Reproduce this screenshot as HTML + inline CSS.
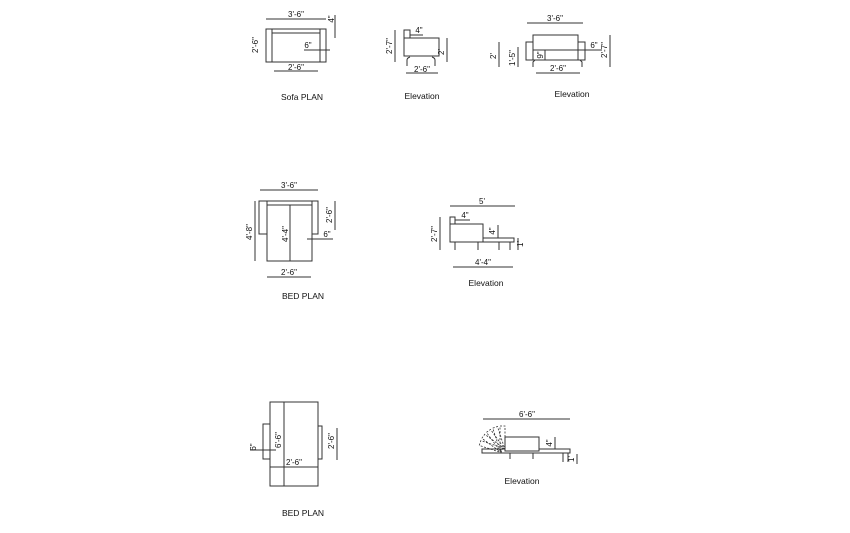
<!DOCTYPE html>
<html><head><style>
html,body{margin:0;padding:0;background:#fff;}
svg{display:block;}
text{font-family:"Liberation Sans",sans-serif;fill:#111;}
.d{font-size:8px;}
.l{font-size:8.5px;}
</style></head><body>
<svg width="850" height="533" viewBox="0 0 850 533" xmlns="http://www.w3.org/2000/svg">
<g fill="none" stroke="#333" stroke-width="1">
<!-- Sofa plan -->
<rect x="266" y="29" width="60" height="33"/>
<line x1="272" y1="29" x2="272" y2="62"/><line x1="320" y1="29" x2="320" y2="62"/>
<line x1="272" y1="33" x2="320" y2="33"/>
<line x1="266" y1="19" x2="326" y2="19"/>
<line x1="335" y1="15" x2="335" y2="38"/>
<line x1="304" y1="50" x2="330" y2="50"/>
<line x1="274" y1="71" x2="318" y2="71"/>
<!-- Elevation 1 -->
<rect x="404" y="38" width="35" height="18"/>
<rect x="404" y="30" width="6" height="8"/>
<line x1="410" y1="35" x2="423" y2="35"/>
<line x1="395" y1="30" x2="395" y2="62"/>
<line x1="447" y1="38" x2="447" y2="62"/>
<path d="M410 57 Q407 58 407 60 L407 66 M432 57 Q435 58 435 60 L435 66"/>
<line x1="406" y1="73" x2="438" y2="73"/>
<!-- Elevation 2 -->
<rect x="533" y="35" width="45" height="25"/>
<rect x="526" y="42" width="7" height="18"/>
<rect x="578" y="42" width="7" height="18"/>
<line x1="533" y1="50" x2="602" y2="50"/>
<path d="M535 60 L533 62 L533 67 M580 60 L582 62 L582 67"/>
<line x1="527" y1="23" x2="583" y2="23"/>
<line x1="499" y1="42" x2="499" y2="67"/>
<line x1="518" y1="47" x2="518" y2="67"/>
<line x1="610" y1="35" x2="610" y2="67"/>
<line x1="545" y1="50" x2="545" y2="60"/>
<line x1="536" y1="73" x2="580" y2="73"/>
<!-- Bed plan -->
<rect x="259" y="201" width="59" height="33"/>
<rect x="267" y="201" width="45" height="60" fill="#fff"/>
<line x1="267" y1="205" x2="312" y2="205"/>
<line x1="290" y1="205" x2="290" y2="261"/>
<line x1="260" y1="190" x2="318" y2="190"/>
<line x1="255" y1="201" x2="255" y2="261"/>
<line x1="335" y1="201" x2="335" y2="230"/>
<line x1="307" y1="239" x2="333" y2="239"/>
<line x1="267" y1="277" x2="311" y2="277"/>
<!-- Elevation mid -->
<rect x="450" y="224" width="33" height="18"/>
<rect x="450" y="217" width="5" height="7"/>
<rect x="483" y="238" width="31" height="4"/>
<line x1="455" y1="220" x2="470" y2="220"/>
<path d="M455 242 L455 250 M478 242 L478 250 M499 242 L499 250 M510 242 L510 250"/>
<line x1="450" y1="206" x2="515" y2="206"/>
<line x1="440" y1="217" x2="440" y2="250"/>
<line x1="498" y1="225" x2="498" y2="238"/>
<line x1="518" y1="238" x2="518" y2="250"/>
<line x1="453" y1="267" x2="513" y2="267"/>
<!-- Bed plan 2 -->
<rect x="263" y="424" width="7" height="35"/>
<rect x="318" y="426" width="4" height="33"/>
<rect x="270" y="402" width="48" height="84"/>
<line x1="284" y1="402" x2="284" y2="486"/>
<line x1="270" y1="467" x2="318" y2="467"/>
<line x1="250" y1="450" x2="276" y2="450"/>
<line x1="337" y1="428" x2="337" y2="460"/>
<!-- Elevation bottom -->
<line x1="483" y1="419" x2="570" y2="419"/>
<rect x="482" y="449" width="88" height="4"/>
<rect x="505" y="437" width="34" height="14" fill="#fff"/>
<path d="M510 453 L510 459 M533 453 L533 459 M563 453 L563 462 M568 453 L568 462"/>
<line x1="555" y1="437" x2="555" y2="449"/>
<line x1="577" y1="454" x2="577" y2="464"/>
<g stroke-dasharray="2,1.5" stroke-width="0.8">
<rect x="500" y="426" width="5" height="23"/>
<rect x="500" y="426" width="5" height="23" transform="rotate(-18 503 450)"/>
<rect x="500" y="426" width="5" height="23" transform="rotate(-36 503 450)"/>
<rect x="500" y="426" width="5" height="23" transform="rotate(-54 503 450)"/>
<rect x="500" y="426" width="5" height="23" transform="rotate(-72 503 450)"/>
</g>
</g>
<g class="d">
<text x="296" y="17" text-anchor="middle">3'-6"</text>
<text x="334" y="19" text-anchor="middle" transform="rotate(-90 334 19)">4"</text>
<text x="258" y="45" text-anchor="middle" transform="rotate(-90 258 45)">2'-6"</text>
<text x="308" y="48" text-anchor="middle">6"</text>
<text x="296" y="70" text-anchor="middle">2'-6"</text>
<text x="419" y="33" text-anchor="middle">4"</text>
<text x="392" y="46" text-anchor="middle" transform="rotate(-90 392 46)">2'-7"</text>
<text x="444" y="52" text-anchor="middle" transform="rotate(-90 444 52)">2'</text>
<text x="422" y="72" text-anchor="middle">2'-6"</text>
<text x="555" y="21" text-anchor="middle">3'-6"</text>
<text x="496" y="56" text-anchor="middle" transform="rotate(-90 496 56)">2'</text>
<text x="515" y="58" text-anchor="middle" transform="rotate(-90 515 58)">1'-5"</text>
<text x="607" y="50" text-anchor="middle" transform="rotate(-90 607 50)">2'-7"</text>
<text x="594" y="48" text-anchor="middle">6"</text>
<text x="543" y="55" text-anchor="middle" transform="rotate(-90 543 55)">9"</text>
<text x="558" y="71" text-anchor="middle">2'-6"</text>
<text x="289" y="188" text-anchor="middle">3'-6"</text>
<text x="252" y="232" text-anchor="middle" transform="rotate(-90 252 232)">4'-8"</text>
<text x="288" y="234" text-anchor="middle" transform="rotate(-90 288 234)">4'-4"</text>
<text x="332" y="215" text-anchor="middle" transform="rotate(-90 332 215)">2'-6"</text>
<text x="327" y="237" text-anchor="middle">6"</text>
<text x="289" y="275" text-anchor="middle">2'-6"</text>
<text x="482" y="204" text-anchor="middle">5'</text>
<text x="465" y="218" text-anchor="middle">4"</text>
<text x="437" y="234" text-anchor="middle" transform="rotate(-90 437 234)">2'-7"</text>
<text x="495" y="231" text-anchor="middle" transform="rotate(-90 495 231)">4"</text>
<text x="523" y="244" text-anchor="middle" transform="rotate(-90 523 244)">1'</text>
<text x="483" y="265" text-anchor="middle">4'-4"</text>
<text x="256" y="447" text-anchor="middle" transform="rotate(-90 256 447)">6"</text>
<text x="281" y="440" text-anchor="middle" transform="rotate(-90 281 440)">6'-6"</text>
<text x="294" y="465" text-anchor="middle">2'-6"</text>
<text x="334" y="441" text-anchor="middle" transform="rotate(-90 334 441)">2'-6"</text>
<text x="527" y="417" text-anchor="middle">6'-6"</text>
<text x="552" y="443" text-anchor="middle" transform="rotate(-90 552 443)">4"</text>
<text x="574" y="459" text-anchor="middle" transform="rotate(-90 574 459)">1'</text>
</g>
<g class="l">
<text x="302" y="100" text-anchor="middle">Sofa PLAN</text>
<text x="422" y="99" text-anchor="middle">Elevation</text>
<text x="572" y="97" text-anchor="middle">Elevation</text>
<text x="303" y="299" text-anchor="middle">BED PLAN</text>
<text x="486" y="286" text-anchor="middle">Elevation</text>
<text x="303" y="516" text-anchor="middle">BED PLAN</text>
<text x="522" y="484" text-anchor="middle">Elevation</text>
</g>
</svg>
</body></html>
